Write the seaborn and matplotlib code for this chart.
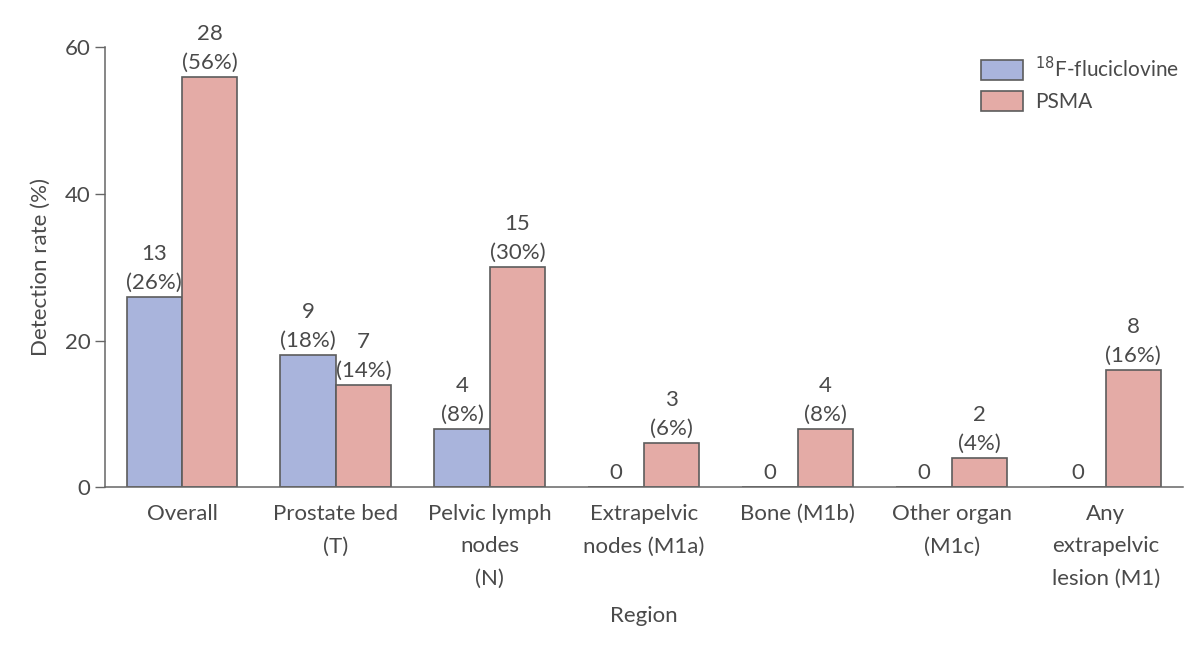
import seaborn as sns
import matplotlib.pyplot as plt
import pandas as pd

# Data
regions = ["Overall", "Prostate bed\n(T)", "Pelvic lymph\nnodes\n(N)", "Extrapelvic\nnodes (M1a)",
           "Bone (M1b)", "Other organ\n(M1c)", "Any\nextrapelvic\nlesion (M1)"]
fluc_n = [13, 9, 4, 0, 0, 0, 0]
fluc_pct = [26, 18, 8, 0, 0, 0, 0]
psma_n = [28, 7, 15, 3, 4, 2, 8]
psma_pct = [56, 14, 30, 6, 8, 4, 16]
tracers = ["$^{18}$F-fluciclovine", "PSMA"]
colors = ["#a9b4dc", "#e4aba6"]

df = pd.DataFrame({
    "Region": regions * 2,
    "Tracer": [tracers[0]] * len(regions) + [tracers[1]] * len(regions),
    "Rate": fluc_pct + psma_pct,
})

sns.set_style("white")
plt.rcParams["font.family"] = ["Lato", "DejaVu Sans"]
txt = "#4a4a4a"

fig = plt.figure(figsize=(12, 6.48), dpi=100)
ax = fig.add_axes([0.0875, 0.248, 0.898, 0.679])

sns.barplot(data=df, x="Region", y="Rate", hue="Tracer", palette=colors, saturation=1,
            width=0.72, edgecolor="#5c5c5c", linewidth=1.2, ax=ax)

# Labels above bars
for cont, ns, ps in zip(ax.containers, [fluc_n, psma_n], [fluc_pct, psma_pct]):
    labs = [f"{n}\n({p}%)" if n > 0 else "0" for n, p in zip(ns, ps)]
    ax.bar_label(cont, labels=labs, padding=3, fontsize=16, color=txt, linespacing=1.55)

ax.set_xlim(-0.5, 6.5)
ax.set_ylim(0, 60)
ax.set_yticks([0, 20, 40, 60])
ax.set_xticks(range(len(regions)))
ax.set_xticklabels(regions, fontsize=16, color=txt, linespacing=1.78)
ax.set_xticks([i + 0.5 for i in range(len(regions) - 1)], minor=True)
ax.tick_params(axis="x", which="major", length=0, pad=12)
ax.tick_params(axis="x", which="minor", length=7, width=1, color="#666666", direction="out")
ax.tick_params(axis="y", length=7, width=1, color="#666666", direction="out",
               labelsize=16, labelcolor=txt, left=True)

for s in ["top", "right"]:
    ax.spines[s].set_visible(False)
for s in ["left", "bottom"]:
    ax.spines[s].set_color("#666666")
    ax.spines[s].set_linewidth(1.1)

ax.set_xlabel("Region", fontsize=16, color=txt, labelpad=12)
ax.set_ylabel("Detection rate (%)", fontsize=16, color=txt, labelpad=10)

ax.legend(frameon=False, loc="upper right", bbox_to_anchor=(1.005, 1.0), fontsize=15,
          labelcolor=txt, handlelength=2.0, handleheight=1.1, handletextpad=0.6,
          borderaxespad=0.0)

fig.savefig("out.png", dpi=100)
